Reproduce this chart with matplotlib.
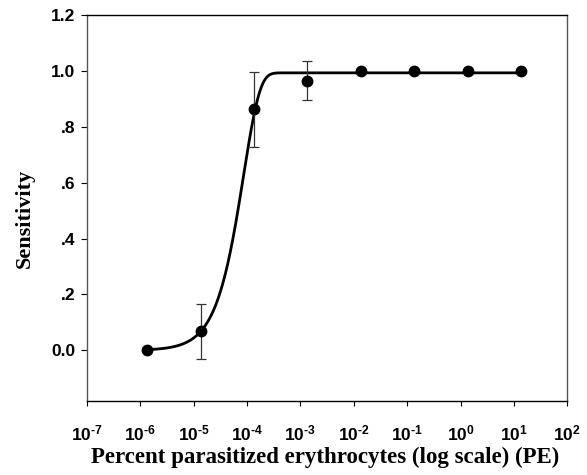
"""
Sensitivity vs. percent parasitized erythrocytes (log scale), with fitted
dose-response curve.
"""

import matplotlib
matplotlib.use("Agg")
import matplotlib.pyplot as plt
import numpy as np

plt.rcParams.update({
    "font.family": "Liberation Sans",
    "font.weight": "bold",
    "mathtext.fontset": "custom",
    "mathtext.rm": "Liberation Sans:bold",
    "mathtext.it": "Liberation Sans:bold",
    "mathtext.bf": "Liberation Sans:bold",
    "mathtext.default": "rm",
})

# ── data ──────────────────────────────────────────────────────────────────────
pe          = [1.36e-6, 1.36e-5, 1.36e-4, 1.36e-3, 1.36e-2, 1.36e-1, 1.36, 13.6]
sensitivity = [0.0, 0.068, 0.862, 0.965, 1.0, 1.0, 1.0, 1.0]
sens_err    = [0.0, 0.098, 0.133, 0.069, 0.0, 0.0, 0.0, 0.0]

# fitted curve parameters (Weibull-type dose response, x in % PE)
FIT_TOP   = 0.993
FIT_SCALE = 8.7e-5
FIT_SHAPE = 1.43

x_ticks      = [1e-7, 1e-6, 1e-5, 1e-4, 1e-3, 1e-2, 1e-1, 1e0, 1e1, 1e2]
x_exponents  = ["-7", "-6", "-5", "-4", "-3", "-2", "-1", "0", "1", "2"]
y_ticks      = [0.0, 0.2, 0.4, 0.6, 0.8, 1.0, 1.2]
y_ticklabels = ["0.0", ".2", ".4", ".6", ".8", "1.0", "1.2"]

fig = plt.figure(figsize=(5.87, 4.75), dpi=100)
ax = fig.add_axes([86.7 / 587, 1 - 400.7 / 475, 480.6 / 587, 385.7 / 475])

# fitted curve
xc = np.logspace(np.log10(pe[0]), np.log10(pe[-1]), 600)
yc = FIT_TOP * (1 - np.exp(-(xc / FIT_SCALE) ** FIT_SHAPE))
ax.plot(xc, yc, color="black", lw=2.0, zorder=2)

# error bars (only where non-zero)
err = np.array(sens_err)
mask = err > 0
ax.errorbar(np.array(pe)[mask], np.array(sensitivity)[mask], yerr=err[mask],
            fmt="none", ecolor="#333333", elinewidth=0.9, capsize=3.5,
            capthick=0.9, zorder=3)
ax.plot(pe, sensitivity, "o", color="black", ms=7.5, zorder=4)

ax.set_xscale("log")
ax.set_xlim(1e-7, 1e2)
ax.set_ylim(-0.18, 1.2)
ax.set_xticks(x_ticks)
ax.set_xticklabels([r"$10^{\text{%s}}$" % e for e in x_exponents], fontsize=12.5)
ax.xaxis.set_minor_locator(matplotlib.ticker.NullLocator())
ax.set_yticks(y_ticks)
ax.set_yticklabels(y_ticklabels, fontsize=12.5, fontweight="bold")
ax.tick_params(axis="x", direction="out", length=3.5, width=0.8, pad=13)
ax.tick_params(axis="y", direction="out", length=4.5, width=0.8, pad=3.5)

for side in ["top", "bottom"]:
    ax.spines[side].set_color("black")
for side in ["left", "right"]:
    ax.spines[side].set_color("#555555")
for sp in ax.spines.values():
    sp.set_linewidth(1.0)

ax.set_xlabel("Percent parasitized erythrocytes (log scale) (PE)",
              family="Liberation Serif", fontweight="bold", fontsize=16.5)
ax.set_ylabel("Sensitivity", family="Liberation Serif", fontweight="bold",
              fontsize=16)
ax.xaxis.set_label_coords(0.496, -0.12)
ax.yaxis.set_label_coords(-0.108, 0.474)

fig.savefig("out.png", dpi=100)
